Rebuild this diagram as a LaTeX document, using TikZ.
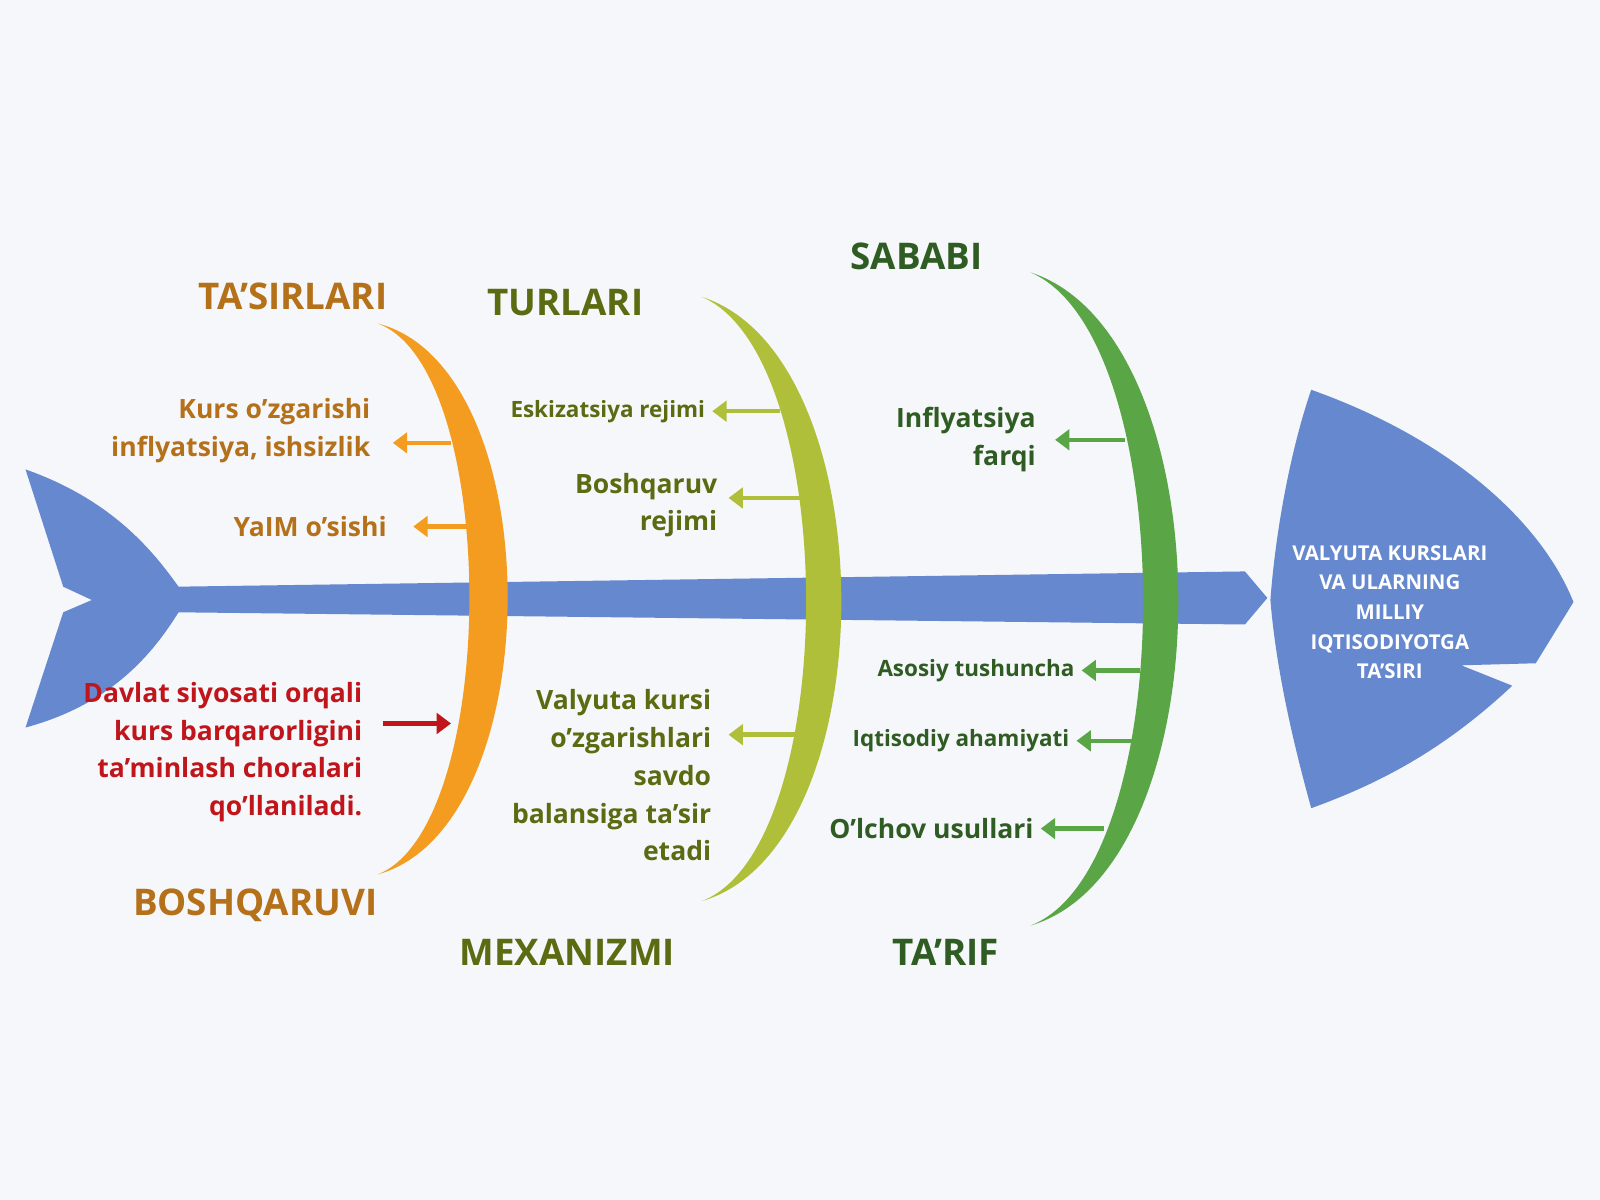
\documentclass[tikz,border=0pt]{standalone}
\usepackage{fontspec}
\setmainfont{Open Sans}
\usetikzlibrary{arrows.meta}
\definecolor{bg}{HTML}{F5F7FA}
\definecolor{fblue}{HTML}{6588CF}
\definecolor{orng}{HTML}{F39C1F}
\definecolor{orngT}{HTML}{B5701A}
\definecolor{ygrn}{HTML}{B0BF3A}
\definecolor{ygrnT}{HTML}{5C6A12}
\definecolor{grn}{HTML}{5AA545}
\definecolor{grnT}{HTML}{2F5C22}
\definecolor{rd}{HTML}{C0161B}
\begin{document}
\begin{tikzpicture}[x=0.5pt,y=-0.5pt,
  title/.style={font=\fontsize{18}{20}\selectfont\bfseries},
  lbl/.style={font=\fontsize{13}{18.5}\selectfont\bfseries,align=right,anchor=east},
  sm/.style={font=\fontsize{11}{14}\selectfont\bfseries,align=right,anchor=east},
  arr/.style={line width=2.2pt,-{Triangle[length=7pt,width=10pt]}}]
\fill[bg] (0,0) rectangle (1568,1176);
% tail
\fill[fblue] (25,460) .. controls (110,490) and (150,540) .. (175,575) -- (175,600) .. controls (150,640) and (110,690) .. (25,713) -- (62,600) -- (90,588) -- (62,575) -- cycle;
% spine
\fill[fblue] (170,575) -- (1220,560) -- (1242,586) -- (1220,612) -- (170,600) -- cycle;
% head
\fill[fblue] (1285,382) .. controls (1420,430) and (1510,510) .. (1542,590) -- (1505,650) -- (1432,652) -- (1482,672) .. controls (1420,730) and (1360,765) .. (1285,792) .. controls (1265,720) and (1250,650) .. (1245,588) .. controls (1250,520) and (1265,440) .. (1285,382) -- cycle;
\node[font=\fontsize{10}{14.5}\selectfont\bfseries,text=white,align=center] (head) at (1362,600) {VALYUTA KURSLARI\\VA ULARNING\\MILLIY\\IQTISODIYOTGA\\TA'SIRI};
% bones
\fill[orng] (370,317) .. controls (540,360) and (540,810) .. (370,857) .. controls (490,810) and (490,360) .. (370,317) -- cycle;
\fill[ygrn] (688,291) .. controls (870,350) and (870,830) .. (688,883) .. controls (824,830) and (824,350) .. (688,291) -- cycle;
\fill[grn] (1010,267) .. controls (1203,330) and (1203,850) .. (1010,907) .. controls (1157,850) and (1157,330) .. (1010,267) -- cycle;
% titles
\node[title,text=orngT] (t1) at (287,290) {TA'SIRLARI};
\node[title,text=orngT] (t2) at (250,887) {BOSHQARUVI};
\node[title,text=ygrnT] (t3) at (554,296) {TURLARI};
\node[title,text=ygrnT] (t4) at (556,933) {MEXANIZMI};
\node[title,text=grnT] (t5) at (898,251) {SABABI};
\node[title,text=grnT] (t6) at (927,933) {TA'RIF};
% labels
\node[lbl,text=orngT] (a1) at (370,422) {Kurs o'zgarishi\\inflyatsiya, ishsizlik};
\node[lbl,text=orngT] (a2) at (386,516) {YaIM o'sishi};
\node[lbl,text=rd] (a3) at (362,737) {Davlat siyosati orqali\\kurs barqarorligini\\ta'minlash choralari\\qo'llaniladi.};
\node[sm,text=ygrnT] (b1) at (698,403) {Eskizatsiya rejimi};
\node[lbl,text=ygrnT] (b2) at (710,495) {Boshqaruv\\rejimi};
\node[lbl,text=ygrnT] (b3) at (704,760) {Valyuta kursi\\o'zgarishlari\\savdo\\balansiga ta'sir\\etadi};
\node[lbl,text=grnT] (c1) at (1022,431) {Inflyatsiya\\farqi};
\node[sm,text=grnT] (c2) at (1060,657) {Asosiy tushuncha};
\node[sm,text=grnT] (c3) at (1055,726) {Iqtisodiy ahamiyati};
\node[lbl,text=grnT] (c4) at (1020,812) {O'lchov usullari};
% arrows
\coordinate (o1) at (442,434); \coordinate (o2) at (458,516);
\coordinate (r1) at (375,709); \coordinate (r2) at (442,709);
\coordinate (y1) at (764,403); \coordinate (y2) at (784,488); \coordinate (y3) at (780,720);
\coordinate (g1) at (1102,431); \coordinate (g2) at (1117,657); \coordinate (g3) at (1117,726); \coordinate (g4) at (1082,812);
\draw[arr,orng] (o1) -- (385,434);
\draw[arr,orng] (o2) -- (405,516);
\draw[arr,rd] (r1) -- (r2);
\draw[arr,ygrn] (y1) -- (b1.east);
\draw[arr,ygrn] (y2) -- (714,488);
\draw[arr,ygrn] (y3) -- (714,720);
\draw[arr,grn] (g1) -- (1034,431);
\draw[arr,grn] (g2) -- (c2.east);
\draw[arr,grn] (g3) -- (c3.east);
\draw[arr,grn] (g4) -- (c4.east);
\end{tikzpicture}
\end{document}
